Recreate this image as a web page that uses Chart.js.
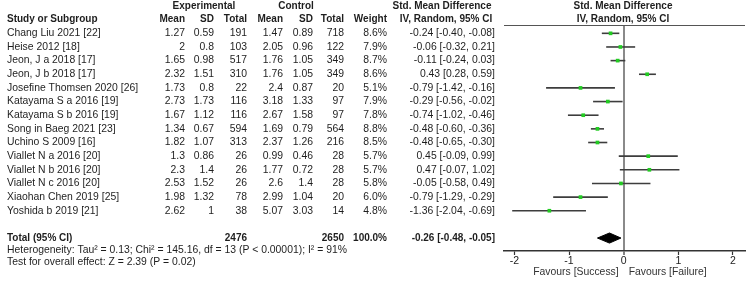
<!DOCTYPE html>
<html>
<head>
<meta charset="utf-8">
<script src="https://cdn.jsdelivr.net/npm/chart.js@4.4.0/dist/chart.umd.min.js"></script>
<style>
  html, body { margin: 0; padding: 0; background: #fff; }
  #wrap { width: 750px; height: 284px; }
</style>
</head>
<body>
<div id="wrap"><canvas id="forest" width="750" height="284"></canvas></div>
<script>
const studies = [
  'Chang Liu 2021 [22]', 'Heise 2012 [18]', 'Jeon, J a 2018 [17]', 'Jeon, J b 2018 [17]',
  'Josefine Thomsen 2020 [26]', 'Katayama S a 2016 [19]', 'Katayama S b 2016 [19]',
  'Song in Baeg 2021 [23]', 'Uchino S 2009 [16]', 'Viallet N a 2016 [20]',
  'Viallet N b 2016 [20]', 'Viallet N c 2016 [20]', 'Xiaohan Chen 2019 [25]', 'Yoshida b 2019 [21]'
];
const expMean  = ['1.27', '2', '1.65', '2.32', '1.73', '2.73', '1.67', '1.34', '1.82', '1.3', '2.3', '2.53', '1.98', '2.62'];
const expSD    = ['0.59', '0.8', '0.98', '1.51', '0.8', '1.73', '1.12', '0.67', '1.07', '0.86', '1.4', '1.52', '1.32', '1'];
const expTotal = [191, 103, 517, 310, 22, 116, 116, 594, 313, 26, 26, 26, 78, 38];
const ctlMean  = ['1.47', '2.05', '1.76', '1.76', '2.4', '3.18', '2.67', '1.69', '2.37', '0.99', '1.77', '2.6', '2.99', '5.07'];
const ctlSD    = ['0.89', '0.96', '1.05', '1.05', '0.87', '1.33', '1.58', '0.79', '1.26', '0.46', '0.72', '1.4', '1.04', '3.03'];
const ctlTotal = [718, 122, 349, 349, 20, 97, 97, 564, 216, 28, 28, 28, 20, 14];
const weights  = ['8.6%', '7.9%', '8.7%', '8.6%', '5.1%', '7.9%', '7.8%', '8.8%', '8.5%', '5.7%', '5.7%', '5.8%', '6.0%', '4.8%'];
const smd      = [-0.24, -0.06, -0.11, 0.43, -0.79, -0.29, -0.74, -0.48, -0.48, 0.45, 0.47, -0.05, -0.79, -1.36];
const ciLow    = [-0.40, -0.32, -0.24, 0.28, -1.42, -0.56, -1.02, -0.60, -0.65, -0.09, -0.07, -0.58, -1.29, -2.04];
const ciHigh   = [-0.08, 0.21, 0.03, 0.59, -0.16, -0.02, -0.46, -0.36, -0.30, 0.99, 1.02, 0.49, -0.29, -0.69];

const totalExp = 2476;
const totalCtl = 2650;
const totalWeight = '100.0%';
const pooled = { est: -0.26, lo: -0.48, hi: -0.05 };
const heterogeneityText = 'Heterogeneity: Tau\u00B2 = 0.13; Chi\u00B2 = 145.16, df = 13 (P < 0.00001); I\u00B2 = 91%';
const overallText = 'Test for overall effect: Z = 2.39 (P = 0.02)';
const xTicks = [-2, -1, 0, 1, 2];
const favourLeft = 'Favours [Success]';
const favourRight = 'Favours [Failure]';

const fontFamily = "'Liberation Sans', Arial, sans-serif";
const textColor = '#1e1e1e';
const normalFont = '10.4px ' + fontFamily;
const boldFont = 'bold 10px ' + fontFamily;

function fmt(v) {
  return v.toFixed(2);
}
function ciText(est, lo, hi) {
  return fmt(est) + ' [' + fmt(lo) + ', ' + fmt(hi) + ']';
}

// table text and labels, placed on the rows of the y scale
const tablePlugin = {
  id: 'forestTable',
  afterDraw(chart) {
    const ctx = chart.ctx;
    const ys = chart.scales.y;
    const xs = chart.scales.x;
    const area = chart.chartArea;

    function put(text, px, row, align, bold) {
      ctx.font = bold ? boldFont : normalFont;
      ctx.textAlign = align;
      ctx.fillText(text, px, ys.getPixelForValue(row));
    }

    ctx.save();
    ctx.fillStyle = textColor;
    ctx.textBaseline = 'middle';

    // headers
    put('Experimental', 204, -2, 'center', true);
    put('Control', 296, -2, 'center', true);
    put('Std. Mean Difference', 442, -2, 'center', true);
    put('Std. Mean Difference', 623, -2, 'center', true);
    put('Study or Subgroup', 7, -1, 'left', true);
    put('Mean', 185, -1, 'right', true);
    put('SD', 214, -1, 'right', true);
    put('Total', 247, -1, 'right', true);
    put('Mean', 283, -1, 'right', true);
    put('SD', 313, -1, 'right', true);
    put('Total', 344, -1, 'right', true);
    put('Weight', 387, -1, 'right', true);
    put('IV, Random, 95% CI', 446, -1, 'center', true);
    put('IV, Random, 95% CI', 623, -1, 'center', true);

    studies.forEach((s, i) => {
      put(s, 7, i, 'left', false);
      put(expMean[i], 185, i, 'right', false);
      put(expSD[i], 214, i, 'right', false);
      put(String(expTotal[i]), 247, i, 'right', false);
      put(ctlMean[i], 283, i, 'right', false);
      put(ctlSD[i], 313, i, 'right', false);
      put(String(ctlTotal[i]), 344, i, 'right', false);
      put(weights[i], 387, i, 'right', false);
      put(ciText(smd[i], ciLow[i], ciHigh[i]), 495, i, 'right', false);
    });

    const tRow = studies.length + 1;
    put('Total (95% CI)', 7, tRow, 'left', true);
    put(String(totalExp), 247, tRow, 'right', true);
    put(String(totalCtl), 344, tRow, 'right', true);
    put(totalWeight, 387, tRow, 'right', true);
    put(ciText(pooled.est, pooled.lo, pooled.hi), 495, tRow, 'right', true);

    put(heterogeneityText, 7, tRow + 0.92, 'left', false);
    put(overallText, 7, tRow + 1.73, 'left', false);

    // favours labels either side of zero
    const zero = xs.getPixelForValue(0);
    ctx.fillStyle = '#333';
    ctx.font = normalFont;
    ctx.textAlign = 'right';
    ctx.fillText(favourLeft, zero - 5, 272.5);
    ctx.textAlign = 'left';
    ctx.fillText(favourRight, zero + 5, 272.5);

    // rule under the plot header
    ctx.strokeStyle = '#555';
    ctx.lineWidth = 1;
    ctx.beginPath();
    ctx.moveTo(area.left, area.top + 0.5);
    ctx.lineTo(area.right, area.top + 0.5);
    ctx.stroke();
    ctx.restore();
  }
};

const ciSets = studies.map((s, i) => ({
  type: 'scatter',
  label: s,
  data: [{ x: ciLow[i], y: i }, { x: ciHigh[i], y: i }],
  showLine: true,
  borderColor: '#3d3d3d',
  borderWidth: 1.6,
  pointRadius: 0,
  order: 2
}));

const pointSet = {
  type: 'scatter',
  label: 'SMD',
  data: smd.map((v, i) => ({ x: v, y: i })),
  pointStyle: 'rect',
  pointRadius: 2.6,
  backgroundColor: '#22cc22',
  borderWidth: 0,
  order: 1
};

const dRow = studies.length + 1;
const dHalf = 0.37;
const diamondSet = {
  type: 'scatter',
  label: 'Total',
  data: [
    { x: pooled.lo, y: dRow },
    { x: pooled.est, y: dRow - dHalf },
    { x: pooled.hi, y: dRow },
    { x: pooled.est, y: dRow + dHalf },
    { x: pooled.lo, y: dRow }
  ],
  showLine: true,
  fill: 'shape',
  borderColor: '#000',
  backgroundColor: '#000',
  borderWidth: 1,
  pointRadius: 0,
  order: 1
};

const ctx = document.getElementById('forest').getContext('2d');
const chart = new Chart(ctx, {
  type: 'scatter',
  data: { datasets: ciSets.concat([pointSet, diamondSet]) },
  options: {
    responsive: false,
    animation: false,
    layout: { padding: { left: 504, right: 5, top: 25, bottom: 0 } },
    plugins: {
      legend: { display: false },
      tooltip: { enabled: false }
    },
    scales: {
      x: {
        type: 'linear',
        min: -2.19,
        max: 2.22,
        afterBuildTicks: (scale) => { scale.ticks = xTicks.map(v => ({ value: v })); },
        afterFit: (scale) => { scale.height = 33; },
        border: { display: true, color: '#333', width: 1.5 },
        grid: {
          drawOnChartArea: true,
          color: (c) => (c.tick && c.tick.value === 0 ? '#8a8a8a' : 'rgba(0,0,0,0)'),
          lineWidth: (c) => (c.tick && c.tick.value === 0 ? 2 : 1),
          tickColor: '#333',
          tickWidth: 1.2,
          tickLength: 4
        },
        ticks: {
          color: '#222',
          padding: 0,
          font: { family: fontFamily, size: 10.5 },
          callback: (v) => String(v)
        }
      },
      y: {
        type: 'linear',
        reverse: true,
        min: -0.61,
        max: 15.95,
        display: false
      }
    }
  },
  plugins: [tablePlugin]
});
</script>
</body>
</html>
